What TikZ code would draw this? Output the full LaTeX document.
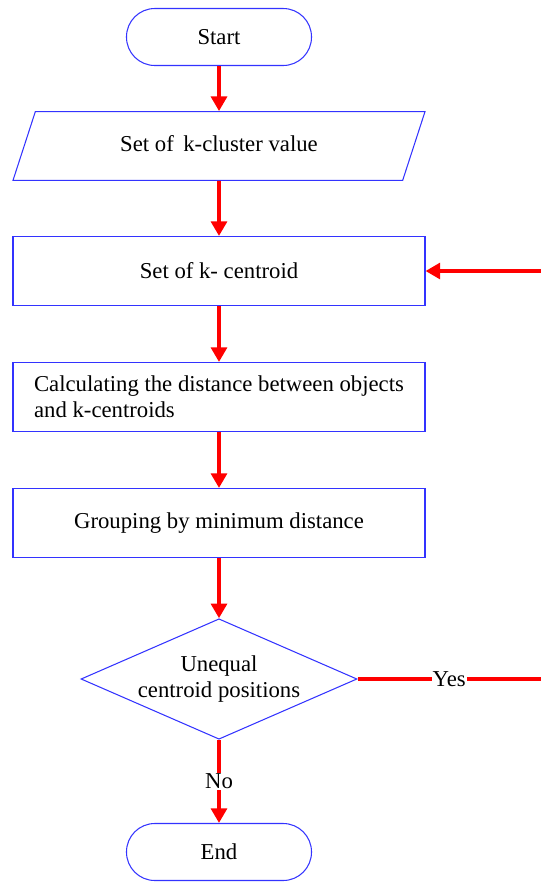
\documentclass[tikz,border=0pt]{standalone}
\usepackage{fontspec}
\setmainfont{Liberation Serif}
\usetikzlibrary{arrows.meta,shapes.geometric}

\begin{document}
\begin{tikzpicture}[
  x=0.03cm, y=-0.03cm,
  font=\fontsize{19.4}{22}\selectfont,
  terminal/.style={
    draw=blue!80!white,
    line width=0.9pt,
    rounded corners=0.85cm,
    minimum width=5.55cm,
    minimum height=1.71cm,
    inner sep=0pt
  },
  inbox/.style={
    draw=blue!80!white,
    line width=0.9pt,
    trapezium,
    trapezium left angle=72,
    trapezium right angle=108,
    trapezium stretches body,
    minimum width=12.36cm,
    text height=13pt,
    text depth=4pt,
    inner xsep=0pt,
    inner ysep=20.85pt
  },
  procbox/.style={
    draw=blue!80!white,
    line width=0.9pt,
    minimum width=12.36cm,
    minimum height=2.07cm,
    align=left,
    inner sep=0pt
  },
  decision/.style={
    draw=blue!80!white,
    line width=0.9pt,
    diamond,
    aspect=2.19,
    minimum width=8.28cm,
    align=center,
    inner sep=0pt
  },
  arrow/.style={-{Triangle[length=12.5pt,width=13.5pt]}, line width=3.2pt, draw=red},
  flow/.style={line width=3.2pt, draw=red},
  answer/.style={fill=white, inner sep=1pt}
]

\useasboundingbox (0,0) rectangle (541,883);

\node[terminal] (start) at (219,37) {Start};
\node[inbox] (kvalue) at (219,146) {Set of\, k-cluster value};
\node[procbox] (centroid) at (219,271) {Set of k- centroid};
\node[procbox] (distance) at (219,397)
  {Calculating the distance between objects\\
   and k-centroids};
\node[procbox] (grouping) at (219,523) {Grouping by minimum distance};
\node[decision] (check) at (219,679) {Unequal\\centroid positions};
\node[terminal] (finish) at (219,852) {End};

\coordinate (loopBot) at (541,679);
\coordinate (loopTop) at (541,271);

\draw[arrow] (start.south) -- (kvalue.north);
\draw[arrow] (kvalue.south) -- (centroid.north);
\draw[arrow] (centroid.south) -- (distance.north);
\draw[arrow] (distance.south) -- (grouping.north);
\draw[arrow] (grouping.south) -- (check.north);
\draw[arrow] (check.south) -- node[answer] {No} (finish.north);
\draw[flow] (check.east) -- node[answer, pos=0.5] {Yes} (loopBot);
\draw[arrow] (loopTop) -- (centroid.east);

\end{tikzpicture}
\end{document}
